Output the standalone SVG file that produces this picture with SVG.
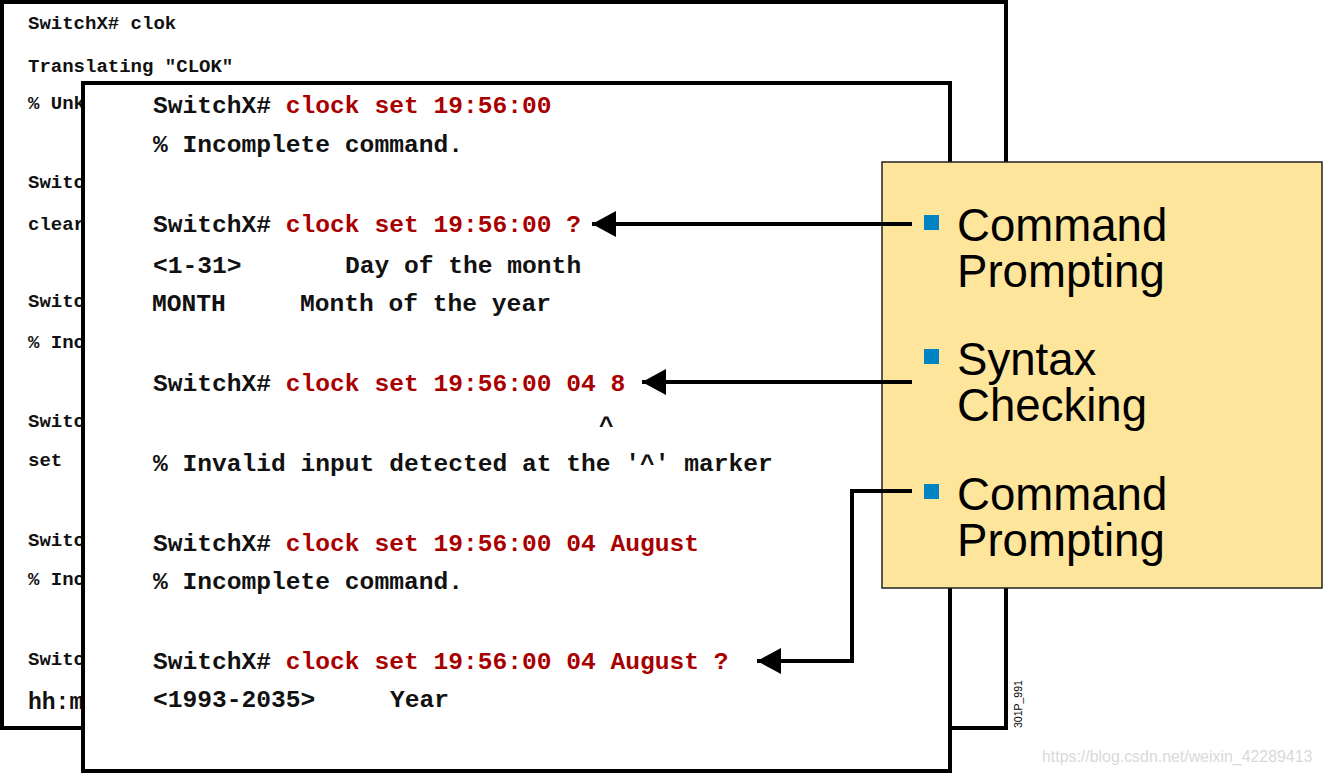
<svg xmlns="http://www.w3.org/2000/svg" width="1323" height="775" viewBox="0 0 1323 775">
<style>
.box{fill:#fff;stroke:#000;stroke-width:4}
.bt{font-family:"Liberation Mono","Courier New",monospace;font-weight:bold;font-size:19px;fill:#111}
.ft{font-family:"Liberation Mono","Courier New",monospace;font-weight:bold;font-size:24.6px;fill:#111}
.r{fill:#A80000}
.yt{font-family:"Liberation Sans",Arial,sans-serif;font-size:45.6px;fill:#000}
.bul{fill:#0083C2}
.conn{fill:none;stroke:#000;stroke-width:4}
</style>
<defs>
<marker id="ah" markerUnits="userSpaceOnUse" markerWidth="26" markerHeight="28" refX="24" refY="13" orient="auto">
<path d="M0,0 L24,13 L0,26 Z" fill="#000"/>
</marker>
</defs>
<rect width="1323" height="775" fill="#fff"/>
<g id="back-terminal">
<rect class="box" x="2" y="2" width="1004" height="726"/>
<text class="bt" x="28" y="29">SwitchX# clok</text>
<text class="bt" x="28" y="72">Translating "CLOK"</text>
<text class="bt" x="28" y="109">% Unk</text>
<text class="bt" x="28" y="188">Switc</text>
<text class="bt" x="28" y="230">clear</text>
<text class="bt" x="28" y="307">Switc</text>
<text class="bt" x="28" y="348">% Inc</text>
<text class="bt" x="28" y="427">Switc</text>
<text class="bt" x="28" y="466">set</text>
<text class="bt" x="28" y="546">Switc</text>
<text class="bt" x="28" y="585">% Inc</text>
<text class="bt" x="28" y="665">Switc</text>
<text class="bt" x="28" y="709" style="font-size:23px">hh:m</text>
</g>
<g id="front-terminal">
<rect class="box" x="83" y="83" width="867" height="688"/>
<text class="ft" x="153" y="113">SwitchX# <tspan class="r">clock set 19:56:00</tspan></text>
<text class="ft" x="153" y="152">% Incomplete command.</text>
<text class="ft" x="153" y="232">SwitchX# <tspan class="r">clock set 19:56:00 ?</tspan></text>
<text class="ft" x="153" y="273">&lt;1-31&gt;</text>
<text class="ft" x="345" y="273">Day of the month</text>
<text class="ft" x="152" y="311">MONTH</text>
<text class="ft" x="300" y="311">Month of the year</text>
<text class="ft" x="153" y="391">SwitchX# <tspan class="r">clock set 19:56:00 04 8</tspan></text>
<text class="ft" x="599" y="433">^</text>
<text class="ft" x="153" y="471">% Invalid input detected at the '^' marker</text>
<text class="ft" x="153" y="551">SwitchX# <tspan class="r">clock set 19:56:00 04 August</tspan></text>
<text class="ft" x="153" y="589">% Incomplete command.</text>
<text class="ft" x="153" y="669">SwitchX# <tspan class="r">clock set 19:56:00 04 August ?</tspan></text>
<text class="ft" x="153" y="707">&lt;1993-2035&gt;</text>
<text class="ft" x="390" y="707">Year</text>
</g>
<g id="features">
<rect x="882" y="162" width="440" height="426" fill="#FEE59C" stroke="#222" stroke-width="1.5"/>
<rect class="bul" x="924" y="215" width="15" height="15"/>
<text class="yt" x="957" y="241">Command</text>
<text class="yt" x="957" y="287">Prompting</text>
<rect class="bul" x="924" y="349" width="15" height="15"/>
<text class="yt" x="957" y="375">Syntax</text>
<text class="yt" x="957" y="421">Checking</text>
<rect class="bul" x="924" y="484" width="15" height="15"/>
<text class="yt" x="957" y="510">Command</text>
<text class="yt" x="957" y="556">Prompting</text>
</g>
<g id="connectors">
<path class="conn" d="M912,224 H592" marker-end="url(#ah)"/>
<path class="conn" d="M912,382 H642" marker-end="url(#ah)"/>
<path class="conn" d="M912,491 H852 V661 H757" marker-end="url(#ah)"/>
</g>
<g id="labels">
<text x="0" y="0" transform="translate(1022,728) rotate(-90)" style="font-family:'Liberation Sans',Arial,sans-serif;font-size:10.5px;fill:#000">301P_991</text>
<text x="1042" y="762" style="font-family:'Liberation Sans',Arial,sans-serif;font-size:15.9px;fill:#D9D9D9">https://blog.csdn.net/weixin_42289413</text>
</g>
</svg>
